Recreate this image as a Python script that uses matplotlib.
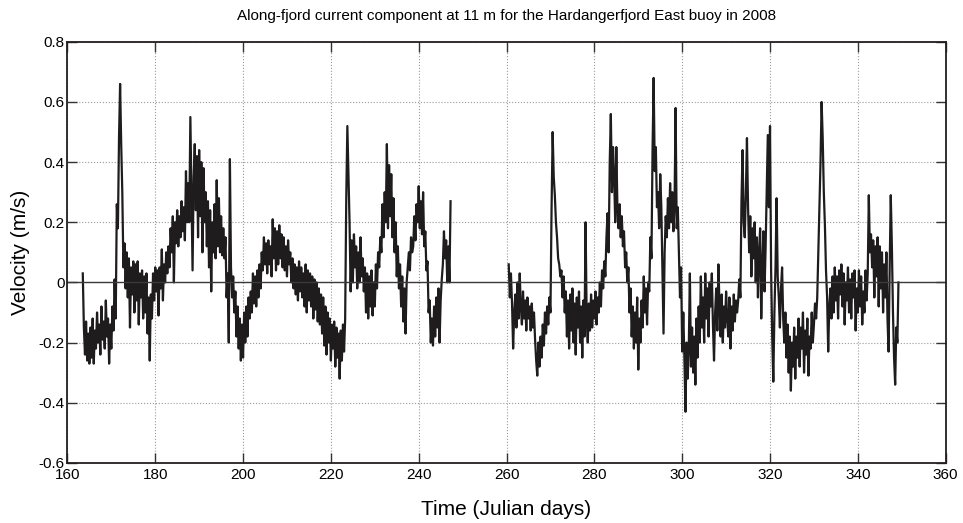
import numpy as np
import matplotlib
matplotlib.use("Agg")
import matplotlib.pyplot as plt

plt.rcParams["font.family"] = ["Liberation Sans", "DejaVu Sans"]

# sampling: 4 values per day, two deployment periods
step = 0.25
start_a = 163.5
start_b = 260.5

# along-fjord velocity (m/s), first period, one row = 2 days
vel_a = [
    0.03, -0.15, -0.24, -0.13, -0.26, -0.17, -0.27, -0.15,   # 163.5
    -0.25, -0.12, -0.27, -0.16, -0.22, -0.10, -0.20, -0.14,  # 165.5
    -0.24, -0.08, -0.19, -0.13, -0.22, -0.06, -0.18, -0.12,  # 167.5
    -0.27, -0.14, -0.22, -0.08, -0.16, 0.01, -0.12, 0.26,    # 169.5
    0.18, 0.48, 0.66, 0.46, 0.30, 0.05, 0.13, -0.02,         # 171.5
    0.10, -0.05, 0.08, -0.15, 0.05, -0.04, 0.07, -0.10,      # 173.5
    0.06, -0.06, 0.07, -0.14, 0.03, -0.05, 0.04, -0.12,      # 175.5
    0.02, -0.10, 0.03, -0.17, -0.05, -0.26, -0.04, -0.12,    # 177.5
    0.03, -0.06, 0.05, -0.03, 0.04, -0.11, 0.05, -0.02,      # 179.5
    0.11, -0.06, 0.06, 0.00, 0.10, 0.03, 0.12, 0.05,         # 181.5
    0.18, 0.10, 0.22, 0.00, 0.20, 0.13, 0.24, 0.12,          # 183.5
    0.22, 0.15, 0.27, 0.17, 0.25, 0.14, 0.37, 0.20,          # 185.5
    0.33, 0.20, 0.55, 0.30, 0.04, 0.35, 0.46, 0.24,          # 187.5
    0.42, 0.15, 0.44, 0.22, 0.40, 0.10, 0.38, 0.20,          # 189.5
    0.30, 0.12, 0.27, 0.05, 0.24, -0.03, 0.20, 0.10,         # 191.5
    0.26, 0.08, 0.34, 0.12, 0.28, 0.10, 0.22, 0.09,          # 193.5
    0.18, 0.08, 0.15, -0.05, 0.03, -0.20, 0.41, 0.05,        # 195.5
    -0.05, 0.02, -0.10, -0.03, -0.18, -0.08, -0.22, -0.12,   # 197.5
    -0.26, -0.14, -0.25, -0.10, -0.20, -0.08, -0.18, -0.05,  # 199.5
    -0.12, -0.03, -0.10, 0.03, -0.07, 0.02, -0.08, 0.04,     # 201.5
    -0.05, 0.06, -0.02, 0.10, 0.04, 0.15, 0.06, 0.13,        # 203.5
    0.03, 0.14, 0.06, 0.12, 0.02, 0.21, 0.08, 0.18,          # 205.5
    0.04, 0.17, 0.06, 0.19, 0.08, 0.16, 0.05, 0.15,          # 207.5
    0.04, 0.12, 0.02, 0.14, 0.06, 0.10, 0.00, 0.08,          # 209.5
    -0.02, 0.06, -0.04, 0.05, -0.06, 0.07, -0.03, 0.05,      # 211.5
    -0.05, 0.03, -0.08, 0.06, -0.10, 0.04, -0.06, 0.03,      # 213.5
    -0.08, 0.02, -0.12, 0.01, -0.09, 0.00, -0.13, -0.02,     # 215.5
    -0.14, -0.04, -0.17, -0.05, -0.21, -0.08, -0.24, -0.10,  # 217.5
    -0.20, -0.12, -0.26, -0.14, -0.22, -0.13, -0.28, -0.15,  # 219.5
    -0.25, -0.17, -0.32, -0.16, -0.26, -0.14, -0.23, -0.12,  # 221.5
    0.28, 0.52, 0.36, 0.20, -0.03, 0.14, 0.00, 0.16,         # 223.5
    0.05, 0.12, -0.02, 0.10, 0.00, 0.15, 0.02, 0.08,         # 225.5
    -0.03, 0.05, -0.10, 0.03, -0.12, 0.02, -0.08, 0.04,      # 227.5
    -0.11, 0.00, -0.08, 0.06, -0.02, 0.10, 0.05, 0.15,       # 229.5
    0.10, 0.26, 0.15, 0.30, 0.20, 0.46, 0.18, 0.39,          # 231.5
    0.22, 0.36, 0.15, 0.28, 0.10, 0.20, 0.02, 0.12,          # 233.5
    -0.02, 0.06, -0.08, 0.02, -0.13, -0.02, -0.17, 0.00,     # 235.5
    0.05, 0.10, 0.04, 0.15, 0.10, 0.12, 0.22, 0.14,          # 237.5
    0.26, 0.20, 0.32, 0.18, 0.27, 0.16, 0.30, 0.12,          # 239.5
    0.17, 0.04, 0.07, -0.10, -0.06, -0.20, -0.12, -0.21,     # 241.5
    -0.08, -0.18, -0.05, -0.15, -0.02, -0.20, -0.06, 0.01,   # 243.5
    0.06, 0.17, 0.08, 0.14, 0.00, 0.12, 0.00, 0.27,          # 245.5
]

# second period
vel_b = [
    0.06, -0.05, 0.03, -0.07, -0.22, -0.10, -0.04, -0.15,    # 260.5
    0.00, -0.12, 0.03, -0.08, -0.14, -0.03, -0.12, -0.06,    # 262.5
    -0.16, -0.05, -0.12, -0.08, -0.16, -0.07, -0.15, -0.10,  # 264.5
    -0.19, -0.26, -0.31, -0.20, -0.28, -0.18, -0.25, -0.14,  # 266.5
    -0.21, -0.10, -0.17, -0.08, -0.14, -0.05, -0.10, 0.24,   # 268.5
    0.50, 0.35, 0.29, 0.20, 0.15, 0.08, 0.06, 0.02,          # 270.5
    0.04, -0.05, 0.02, -0.10, -0.03, -0.18, -0.06, -0.22,    # 272.5
    -0.04, -0.16, -0.02, -0.20, -0.07, -0.24, -0.05, -0.15,  # 274.5
    -0.03, -0.20, -0.08, -0.25, -0.06, -0.18, 0.20, -0.12,   # 276.5
    -0.20, -0.07, -0.16, -0.04, -0.15, -0.06, -0.12, -0.03,  # 278.5
    -0.14, -0.05, -0.10, 0.00, -0.08, 0.04, -0.02, 0.07,     # 280.5
    0.02, 0.15, 0.23, 0.10, 0.40, 0.56, 0.30, 0.45,          # 282.5
    0.35, 0.20, 0.45, 0.25, 0.18, 0.26, 0.15, 0.22,          # 284.5
    0.12, 0.17, 0.05, 0.10, 0.00, 0.05, -0.10, -0.02,        # 286.5
    -0.18, -0.08, -0.22, -0.10, -0.20, -0.05, -0.29, -0.12,  # 288.5
    -0.20, -0.06, -0.15, 0.02, -0.10, -0.02, -0.14, 0.00,    # 290.5
    -0.03, 0.15, 0.08, 0.44, 0.68, 0.37, 0.45, 0.25,         # 292.5
    0.30, 0.18, 0.36, 0.25, 0.04, -0.17, 0.10, 0.22,         # 294.5
    0.15, 0.28, 0.18, 0.33, 0.20, 0.30, 0.17, 0.25,          # 296.5
    0.58, 0.18, 0.25, 0.10, -0.05, 0.05, -0.23, -0.10,       # 298.5
    -0.25, -0.43, -0.20, -0.32, -0.22, 0.03, -0.28, -0.15,   # 300.5
    -0.30, -0.18, -0.34, -0.12, -0.25, -0.08, -0.20, 0.02,   # 302.5
    -0.15, -0.05, -0.20, 0.03, -0.12, -0.02, -0.18, 0.00,    # 304.5
    -0.08, 0.03, -0.14, -0.26, -0.10, -0.02, -0.16, 0.06,    # 306.5
    -0.08, -0.18, -0.04, -0.20, -0.08, -0.15, -0.03, -0.12,  # 308.5
    -0.18, -0.05, -0.22, -0.08, -0.16, -0.04, -0.13, -0.06,  # 310.5
    -0.10, -0.06, 0.01, -0.05, 0.27, 0.44, 0.20, 0.15,       # 312.5
    0.30, 0.48, 0.25, 0.10, 0.22, 0.02, 0.18, 0.08,          # 314.5
    0.20, 0.00, 0.15, -0.05, 0.10, 0.18, -0.12, 0.05,        # 316.5
    0.17, -0.03, 0.12, 0.30, 0.49, 0.25, 0.52, 0.04,         # 318.5
    -0.18, -0.33, -0.10, 0.05, 0.28, 0.02, -0.05, -0.15,     # 320.5
    -0.02, 0.05, -0.12, -0.20, -0.10, -0.25, -0.14, -0.30,   # 322.5
    -0.18, -0.36, -0.20, -0.28, -0.15, -0.32, -0.18, -0.25,  # 324.5
    -0.12, -0.28, -0.15, -0.22, -0.10, -0.30, -0.16, -0.24,  # 326.5
    -0.12, -0.31, -0.18, -0.22, -0.10, -0.20, -0.14, -0.07,  # 328.5
    -0.12, -0.05, 0.10, 0.24, 0.40, 0.60, 0.48, 0.30,        # 330.5
    0.19, 0.04, -0.05, -0.23, -0.08, -0.02, -0.12, 0.02,     # 332.5
    -0.10, 0.05, -0.06, 0.02, -0.12, 0.04, -0.04, 0.06,      # 334.5
    -0.08, 0.03, -0.14, 0.00, -0.06, 0.05, -0.10, 0.01,      # 336.5
    -0.12, 0.03, -0.05, 0.04, -0.16, -0.02, -0.10, 0.04,     # 338.5
    -0.08, 0.02, -0.14, -0.03, -0.10, 0.04, -0.06, 0.03,     # 340.5
    0.29, 0.10, 0.16, 0.05, 0.14, -0.05, 0.12, 0.02,         # 342.5
    0.15, -0.08, 0.12, -0.02, 0.10, -0.10, 0.06, -0.05,      # 344.5
    0.10, -0.12, -0.23, 0.05, 0.29, 0.12, -0.10, -0.25,      # 346.5
    -0.34, -0.15, -0.20, 0.00,                               # 348.5
]

days_a = start_a + step * np.arange(len(vel_a))
days_b = start_b + step * np.arange(len(vel_b))

xticks = [160, 180, 200, 220, 240, 260, 280, 300, 320, 340, 360]
yticks = [-0.6, -0.4, -0.2, 0, 0.2, 0.4, 0.6, 0.8]
ylabels = ["-0.6", "-0.4", "-0.2", "0", "0.2", "0.4", "0.6", "0.8"]

fig = plt.figure(figsize=(9.63, 5.23), dpi=100)
ax = fig.add_axes([0.070, 0.115, 0.912, 0.805])

ax.plot(days_a, vel_a, color="#1e1c1c", lw=1.6)
ax.plot(days_b, vel_b, color="#1e1c1c", lw=1.6)
ax.axhline(0, color="#3a3a3a", lw=1.0)

ax.set_xlim(160, 360)
ax.set_ylim(-0.6, 0.8)
ax.set_xticks(xticks)
ax.set_yticks(yticks)
ax.set_yticklabels(ylabels)
ax.grid(True, linestyle=":", color="#9a9a9a", lw=0.8)
ax.tick_params(direction="in", top=True, right=True, labelsize=11, length=7,
               width=1.0, color="#333333")
ax.tick_params(axis="x", pad=4)
ax.tick_params(axis="y", pad=2)
for s in ax.spines.values():
    s.set_linewidth(1.3)
    s.set_color("#231f20")

ax.set_title("Along-fjord current component at 11 m for the Hardangerfjord East buoy in 2008",
             fontsize=11, pad=16)
ax.set_xlabel("Time (Julian days)", fontsize=15, labelpad=13)
ax.set_ylabel("Velocity (m/s)", fontsize=15, labelpad=6)

fig.savefig("out.png", dpi=100)
